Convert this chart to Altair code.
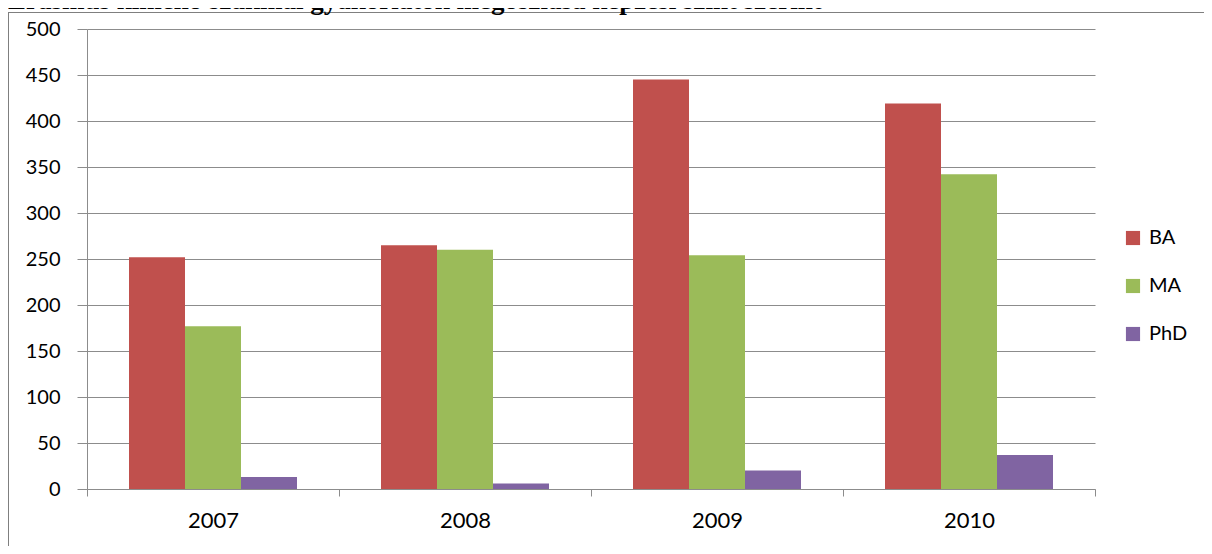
import altair as alt
import pandas as pd

years = ["2007", "2008", "2009", "2010"]
levels = ["BA", "MA", "PhD"]
ba_values = [252, 265, 445, 419]
ma_values = [177, 260, 254, 342]
phd_values = [13, 6, 20, 37]
level_colors = ["#C0504D", "#9BBB59", "#8064A2"]
y_ticks = [0, 50, 100, 150, 200, 250, 300, 350, 400, 450, 500]
title_text = "Erasmus kimenő szakmai gyakorlatok megoszlása képzési szint szerint"

rows = []
for i, yr in enumerate(years):
    for lvl, vals in zip(levels, [ba_values, ma_values, phd_values]):
        rows.append({"year": yr, "level": lvl, "value": vals[i]})
df = pd.DataFrame(rows)

GRID = "#8c8c8c"
FONT = "Lato"

bars = alt.Chart(df).mark_bar().encode(
    x=alt.X(
        "year:N",
        sort=years,
        scale=alt.Scale(paddingInner=0, paddingOuter=0),
        axis=alt.Axis(
            title=None, labelAngle=0, tickBand="extent", tickSize=7,
            tickColor=GRID, domainColor=GRID, grid=False,
            labelFontSize=22, labelFont=FONT, labelColor="#000000",
            labelPadding=14,
        ),
    ),
    xOffset=alt.XOffset(
        "level:N", sort=levels,
        scale=alt.Scale(paddingOuter=0.75, paddingInner=0),
    ),
    y=alt.Y(
        "value:Q",
        scale=alt.Scale(domain=[0, 500], nice=False),
        axis=alt.Axis(
            title=None, values=y_ticks, grid=True, gridColor=GRID,
            tickColor=GRID, domainColor=GRID, tickSize=10,
            labelFontSize=20, labelFont=FONT, labelColor="#000000",
            labelPadding=17,
        ),
    ),
    color=alt.Color(
        "level:N",
        sort=levels,
        scale=alt.Scale(domain=levels, range=level_colors),
        legend=alt.Legend(
            title=None, orient="none", legendX=1036, legendY=199,
            symbolType="square", symbolSize=200, symbolStrokeWidth=0,
            symbolOpacity=1, labelFontSize=20, labelFont=FONT,
            labelColor="#000000", rowPadding=28, labelOffset=6,
        ),
    ),
)

one = alt.Data(values=[{"t": title_text}])

frame_left = alt.Chart(one).mark_rule(color="#7f7f7f", strokeWidth=1).encode(
    x=alt.value(-78.5), y=alt.value(-17), y2=alt.value(517)
)
frame_top = alt.Chart(one).mark_rule(color="#7f7f7f", strokeWidth=1).encode(
    x=alt.value(-78.5), x2=alt.value(1117), y=alt.value(-16.5)
)
title = alt.Chart(one).mark_text(
    align="left", baseline="alphabetic", font="Liberation Serif",
    fontSize=27, fontWeight="bold", color="#000000",
).encode(x=alt.value(-79), y=alt.value(-20), text="t:N")

chart = alt.layer(bars, frame_left, frame_top, title).properties(
    width=1008,
    height=460,
    autosize=alt.AutoSizeParams(type="none"),
    padding={"left": 79, "top": 21, "right": 109, "bottom": 57},
).configure_view(stroke=None)

chart.save("out.html", embed_options={"renderer": "svg", "actions": False})
